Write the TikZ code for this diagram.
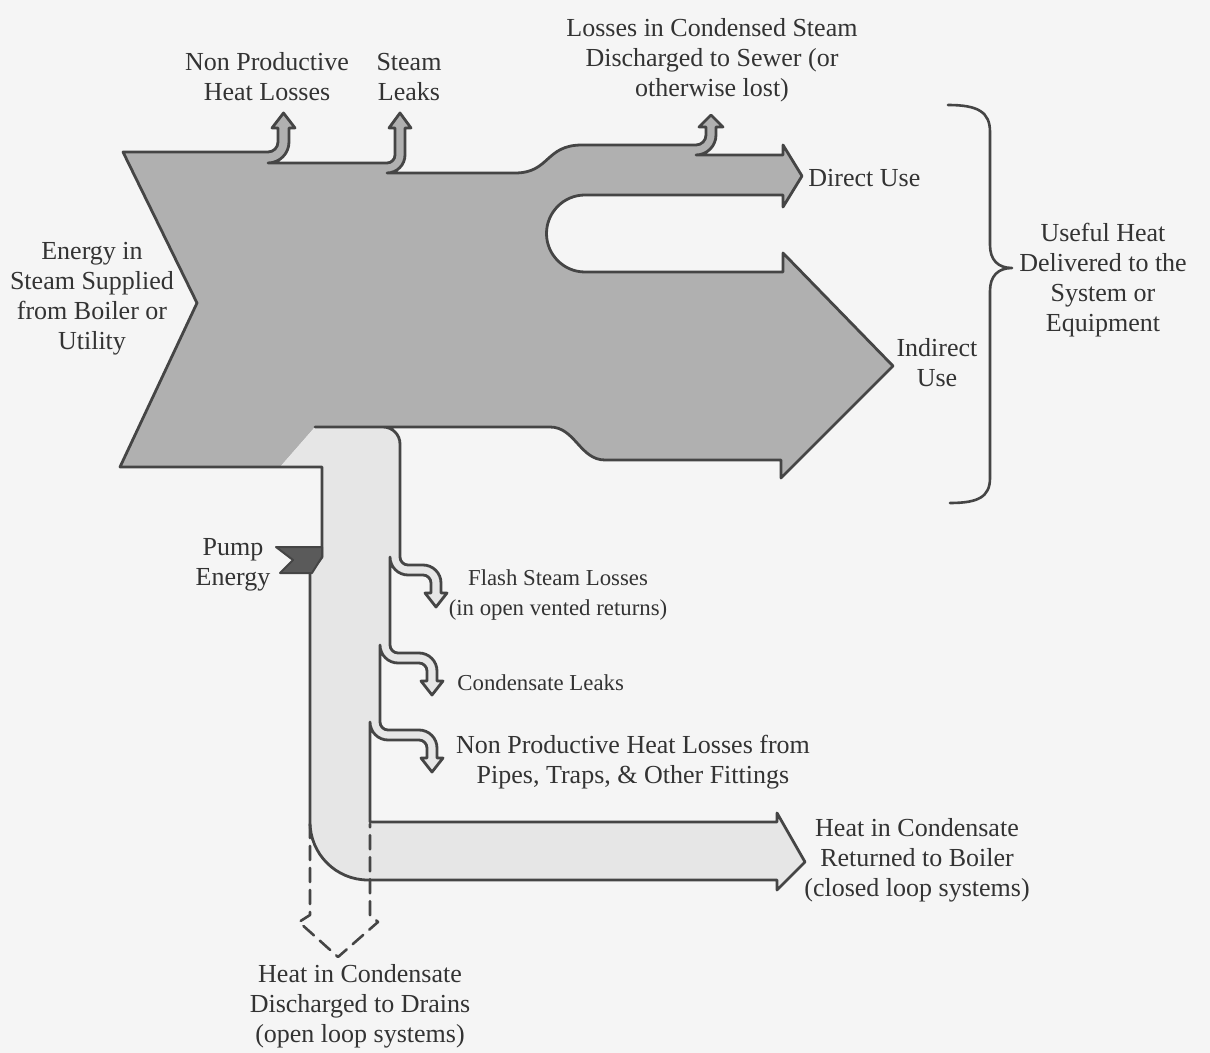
\documentclass[tikz,border=0pt]{standalone}
\usepackage{fontspec}
\setmainfont{Liberation Serif}
\definecolor{paper}{HTML}{F5F5F5}
\definecolor{linegray}{HTML}{454545}
\definecolor{textgray}{HTML}{333333}
\definecolor{steamfill}{HTML}{B0B0B0}
\definecolor{condfill}{HTML}{E6E6E6}
\definecolor{pumpfill}{HTML}{5A5A5A}

% Downward branch leaving the right wall of the condensate pipe:
% #1 wall x before the branch, #2 branch y, #3 centre x of its head
\newcommand\brdown[3]{%
 -- (#1,#2) .. controls (#1,#2+4.4) and (#1+3.6,#2+8) .. (#1+8,#2+8)
 -- (#3-13,#2+8) .. controls (#3-3.1,#2+8) and (#3+5,#2+16.1) .. (#3+5,#2+26)
 -- (#3+5,#2+36) -- (#3+11,#2+36) -- (#3,#2+50) -- (#3-11,#2+36) -- (#3-5,#2+36)
 -- (#3-5,#2+26) .. controls (#3-5,#2+21.6) and (#3-8.6,#2+18) .. (#3-13,#2+18)
 -- (#1+8,#2+18) .. controls (#1-1.9,#2+18) and (#1-10,#2+9.9) .. (#1-10,#2)}

% Top and right outline of the steam flow, from the chevron top to the pipe
\newcommand\mainedge{%
 -- (268,152) .. controls (273.5,152) and (278,147.5) .. (278,142)
 -- (278,128) -- (272,128) -- (283.5,113) -- (295,128) -- (289,128) -- (289,142)
 .. controls (289,153.6) and (279.6,163) .. (268,163)
 -- (387,163) .. controls (391.4,163) and (395,159.4) .. (395,155)
 -- (395,128) -- (389,128) -- (400,113) -- (411,128) -- (405,128) -- (405,155)
 .. controls (405,164.9) and (396.9,173) .. (387,173)
 -- (515,173) .. controls (550,173) and (545,145) .. (582,145)
 -- (696,145) .. controls (701.5,145) and (706,140.5) .. (706,135)
 -- (706,127) -- (699,127) -- (711,115) -- (723,127) -- (716,127) -- (716,135)
 .. controls (716,146) and (707,155) .. (696,155)
 -- (783,155) -- (783,145) -- (802,176) -- (783,207) -- (783,195) -- (585,195)
 .. controls (563.7,195) and (546.5,212.3) .. (546.5,233.5)
 .. controls (546.5,254.7) and (563.7,272) .. (585,272)
 -- (783,272) -- (783,253) -- (893,366) -- (781,478) -- (781,460) -- (605,460)
 .. controls (580,460) and (575,427) .. (550,427) -- (315,427)}

% Outline of the condensate return pipe with its loss branches
\newcommand\pipeedge{%
 .. controls (392.4,427) and (400,434.6) .. (400,444)
 \brdown{400}{557}{436}
 \brdown{390}{645}{432}
 \brdown{380}{722}{432}
 -- (370,822) -- (777,822) -- (777,813) -- (805,862) -- (777,890) -- (777,880)
 -- (368,880) .. controls (336,880) and (310,854) .. (310,822)
 -- (310,573) -- (322,557) -- (322,467)}

\begin{document}
\begin{tikzpicture}[x=0.5pt,y=-0.5pt,
  wall/.style={draw=linegray,line width=1.4pt,line join=round,line cap=round},
  lbl/.style={text=textgray,align=center,inner sep=0pt,
              font=\fontsize{13}{15}\selectfont},
  smalllbl/.style={lbl,font=\fontsize{11.4}{15}\selectfont}]

\fill[paper] (0,0) rectangle (1210,1053);
\useasboundingbox (0,0) rectangle (1210,1053);

% steam flow and condensate pipe
\fill[steamfill] (280,467) -- (120,467) -- (197,303) -- (123,152) \mainedge -- cycle;
\fill[condfill] (315,427) -- (383,427) \pipeedge -- (280,467) -- cycle;
\draw[wall] (383,427) \pipeedge -- (120,467) -- (197,303) -- (123,152) \mainedge;

% pump energy input
\filldraw[fill=pumpfill,draw=linegray,line width=1pt,line join=round]
  (276,547) -- (322,547) -- (322,557) -- (312,573) -- (280,573) -- (293,560) -- cycle;

% open loop discharge to drains
\draw[wall,line width=1.3pt,dash pattern=on 7pt off 4pt]
  (310,824) -- (310,915) -- (299,922) -- (338,957) -- (378,922) -- (370,915) -- (370,824);

% brace grouping the useful heat
\draw[wall,line width=1.3pt]
  (948,105) .. controls (978,105) and (990,112) .. (990,132) -- (990,245)
  .. controls (990,260) and (998,268) .. (1012,268)
  .. controls (998,268) and (990,276) .. (990,291) -- (990,478)
  .. controls (990,497) and (978,503) .. (950,503);

% labels
\node[lbl] (nph) at (267,77) {Non Productive\\Heat Losses};
\node[lbl] (sleak) at (409,77) {Steam\\Leaks};
\node[lbl] (sewer) at (712,60) {Losses in Condensed Steam\\Discharged to Sewer (or\\otherwise lost)};
\node[lbl,anchor=west] (direct) at (808,178) {Direct Use};
\node[lbl] (indirect) at (937,363) {Indirect\\Use};
\node[lbl] (useful) at (1103,280) {Useful Heat\\Delivered to the\\System or\\Equipment};
\node[lbl] (supply) at (92,299) {Energy in\\Steam Supplied\\from Boiler or\\Utility};
\node[lbl] (pump) at (233,565) {Pump\\Energy};
\node[smalllbl] (flash) at (558,595) {Flash Steam Losses\\(in open vented returns)};
\node[smalllbl,anchor=west] (cleak) at (457,683) {Condensate Leaks};
\node[lbl] (pipes) at (633,762) {Non Productive Heat Losses from\\Pipes, Traps, \& Other Fittings};
\node[lbl] (ret) at (917,860) {Heat in Condensate\\Returned to Boiler\\(closed loop systems)};
\node[lbl] (drain) at (360,1006) {Heat in Condensate\\Discharged to Drains\\(open loop systems)};
\end{tikzpicture}
\end{document}
